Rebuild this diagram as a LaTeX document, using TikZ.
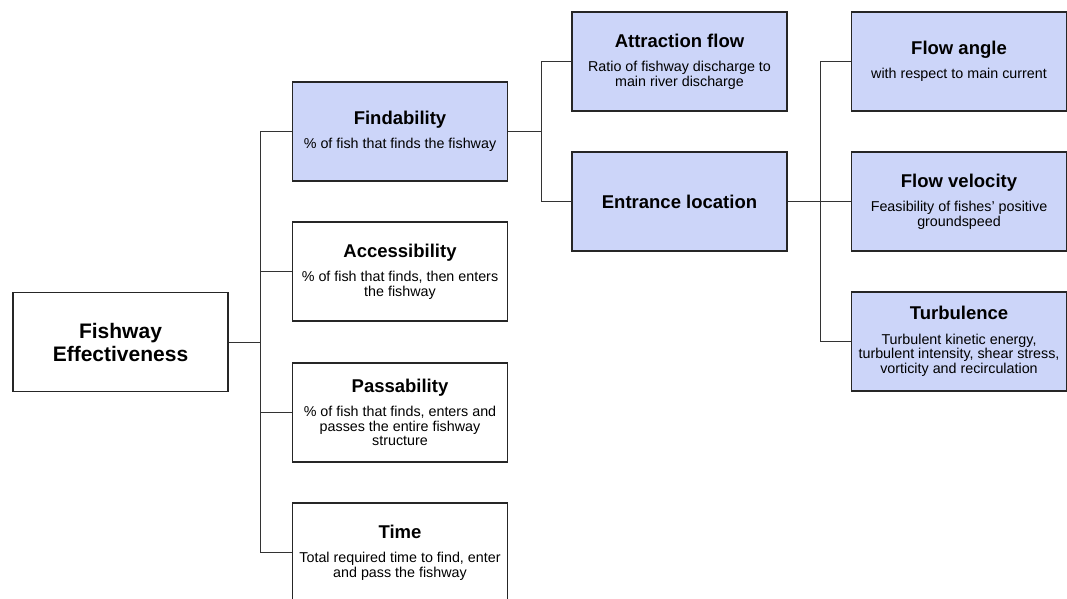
\documentclass[tikz,border=0pt]{standalone}
\usepackage{fontspec}
\setmainfont{Liberation Sans}
\usetikzlibrary{calc}
\definecolor{boxblue}{RGB}{204,213,249}
\newcommand{\ttl}[1]{{\fontsize{18.5}{22}\selectfont\bfseries #1}}
\tikzset{
    box/.style={draw=black!85, line width=1.3pt, minimum width=215pt, minimum height=99pt, align=center, inner sep=0pt,
        font=\fontsize{14.3}{14.5}\selectfont},
    hl/.style={box, fill=boxblue},
    link/.style={draw=black!80, line width=0.8pt}
}

\begin{document}
\begin{tikzpicture}[x=1pt,y=-1pt]
    	\useasboundingbox (0,0) rectangle (1067,599);

    	\node[box, font=\fontsize{21}{23}\selectfont\bfseries] (root) at (120.5,342) {Fishway\\Effectiveness};

    	\node[hl] (find) at (400,131.5) {\ttl{Findability}\\[10pt]\% of fish that finds the fishway};
    	\node[box] (acc) at (400,271.5) {\ttl{Accessibility}\\[10pt]\% of fish that finds, then enters\\the fishway};
    	\node[box] (pass) at (400,412.5) {\ttl{Passability}\\[10pt]\% of fish that finds, enters and\\passes the entire fishway\\structure};
    	\node[box] (time) at (400,552.5) {\ttl{Time}\\[10pt]Total required time to find, enter\\and pass the fishway};

    	\node[hl] (attr) at (679.5,61.5) {\ttl{Attraction flow}\\[10pt]Ratio of fishway discharge to\\main river discharge};
    	\node[hl] (entr) at (679.5,201.5) {\ttl{Entrance location}};

    	\node[hl] (angle) at (959,61.5) {\ttl{Flow angle}\\[10pt]with respect to main current};
    	\node[hl] (velo) at (959,201.5) {\ttl{Flow velocity}\\[10pt]Feasibility of fishes’ positive\\groundspeed};
    	\node[hl] (turb) at (959,341.5) {\ttl{Turbulence}\\[10pt]Turbulent kinetic energy,\\turbulent intensity, shear stress,\\vorticity and recirculation};

    	% tree links
    	\foreach \n in {find,acc,pass,time}
    		\draw[link] (root.east) -- ++(32,0) |- (\n.west);
    	\foreach \n in {attr,entr}
    		\draw[link] (find.east) -- ++(33,0) |- (\n.west);
    	\foreach \n in {angle,velo,turb}
    		\draw[link] (entr.east) -- ++(33,0) |- (\n.west);
    \end{tikzpicture}
\end{document}
